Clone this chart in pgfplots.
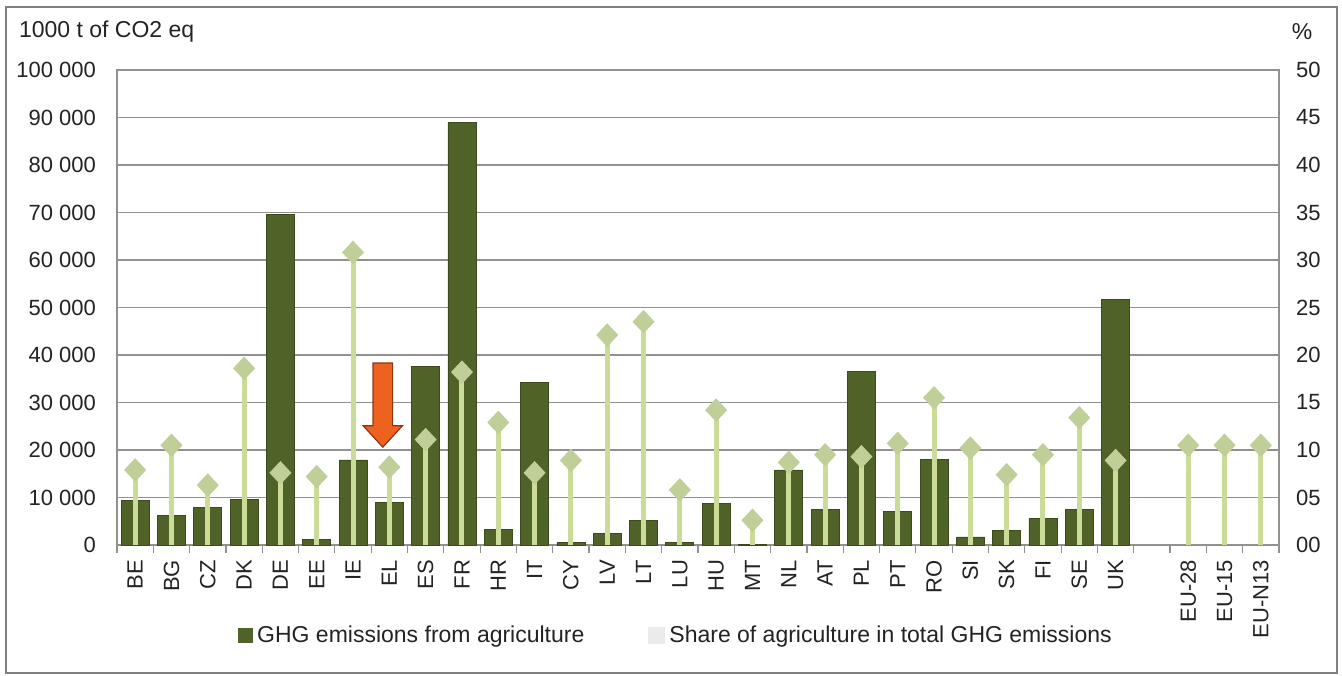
\documentclass[border=0pt]{standalone}
\usepackage{fontspec}
\setmainfont{Liberation Sans}
\usepackage{pgfplots}
\pgfplotsset{compat=1.18}
\usepackage{pgfplotstable}

\definecolor{barolive}{RGB}{79,98,40}
\definecolor{baredge}{RGB}{60,75,30}
\definecolor{stemgreen}{RGB}{202,220,152}
\definecolor{diamgreen}{RGB}{192,206,152}
\definecolor{gridgray}{RGB}{145,145,145}
\definecolor{txt}{RGB}{35,35,35}
\definecolor{arroworange}{RGB}{236,98,30}
\definecolor{arrowedge}{RGB}{140,55,15}

% emissions, 1000 t CO2 eq (countries at 0..27)
\pgfplotstableread{
x val
0 9300
1 6200
2 8000
3 9500
4 69500
5 1250
6 17900
7 9050
8 37500
9 89000
10 3200
11 34200
12 500
13 2500
14 5100
15 500
16 8700
17 150
18 15800
19 7400
20 36500
21 7000
22 18100
23 1700
24 3000
25 5600
26 7400
27 51700
}\emis

% share of agriculture in total GHG emissions, %
\pgfplotstableread{
x share
0 7.9
1 10.5
2 6.3
3 18.6
4 7.6
5 7.2
6 30.8
7 8.2
8 11.1
9 18.2
10 12.9
11 7.6
12 8.9
13 22.1
14 23.5
15 5.8
16 14.2
17 2.6
18 8.7
19 9.5
20 9.3
21 10.7
22 15.5
23 10.2
24 7.4
25 9.5
26 13.4
27 8.9
29 10.5
30 10.5
31 10.5
}\share

\pgfplotsset{
  base/.style={
    scale only axis, width=581pt, height=237.5pt,
    at={(58.5pt,65pt)}, anchor=south west,
    xmin=-0.5, xmax=31.5, ymin=0,
    axis line style={gridgray, line width=0.8pt},
    tick label style={font=\fontsize{11}{13}\selectfont, text=txt},
    /pgf/number format/assume math mode=true,
  }
}

\begin{document}
\begin{tikzpicture}
\useasboundingbox (0,0) rectangle (671pt,337.5pt);

\begin{axis}[base,
    ymax=100000,
    ytick={0,10000,...,100000},
    scaled y ticks=false,
    yticklabel style={/pgf/number format/fixed, /pgf/number format/precision=0,
      /pgf/number format/1000 sep={\ }, xshift=-7pt},
    ymajorgrids, grid style={gridgray, line width=0.8pt},
    xtick={0,...,27,29,30,31},
    xticklabels={BE,BG,CZ,DK,DE,EE,IE,EL,ES,FR,HR,IT,CY,LV,LT,LU,HU,MT,NL,AT,PL,PT,RO,SI,SK,FI,SE,UK,EU-28,EU-15,EU-N13},
    xticklabel style={rotate=90, anchor=east},
    xticklabel shift=4pt,
    xtick pos=bottom, ytick pos=left,
    major tick length=0pt,
    minor xtick={-0.5,0.5,...,31.5},
    tick align=outside, minor tick length=4pt,
    minor tick style={gridgray, line width=0.6pt},
]
\addplot[ybar, bar width=14pt, fill=barolive, draw=baredge, line width=0.4pt]
  table[x=x, y=val]{\emis};
% arrow pointing at EL
\draw[fill=arroworange, draw=arrowedge, line width=0.6pt]
  (axis cs:6.55,38300) -- (axis cs:7.09,38300) -- (axis cs:7.09,25100)
  -- (axis cs:7.36,25100) -- (axis cs:6.82,20600) -- (axis cs:6.28,25100)
  -- (axis cs:6.55,25100) -- cycle;
\end{axis}

\begin{axis}[base,
    ymax=50,
    axis x line=none,
    axis y line*=right,
    ytick={0,5,...,50},
    yticklabels={00,05,10,15,20,25,30,35,40,45,50},
    yticklabel style={xshift=5pt},
    major tick length=0pt,
    legend style={at={(0.482,-0.19)}, anchor=center, draw=none, fill=none,
      font=\fontsize{11.5}{13}\selectfont, text=txt,
      /tikz/every even column/.append style={column sep=30pt}},
    legend columns=2,
]
\addlegendimage{legend image code/.code={\fill[barolive] (0pt,-3.5pt) rectangle (7pt,3.5pt);}}
\addlegendentry{GHG emissions from agriculture}
\addplot[ycomb, stemgreen, line width=2.5pt,
    mark=diamond*, mark size=5.5pt,
    mark options={solid, xscale=1.25, fill=diamgreen, draw=diamgreen, line width=0.5pt},
    legend image code/.code={\fill[black!8] (0pt,-3pt) rectangle (6pt,3pt);}]
  table[x=x, y=share]{\share};
\addlegendentry{Share of agriculture in total GHG emissions}
\end{axis}

\node[anchor=west, font=\fontsize{11.5}{13}\selectfont, text=txt] at (6pt,321.5pt) {1000 t of CO2 eq};
\node[font=\fontsize{11.5}{13}\selectfont, text=txt] at (651pt,321.5pt) {\%};
\draw[gray, line width=1.2pt] (3pt,1pt) rectangle (668.5pt,334pt);
\end{tikzpicture}
\end{document}
